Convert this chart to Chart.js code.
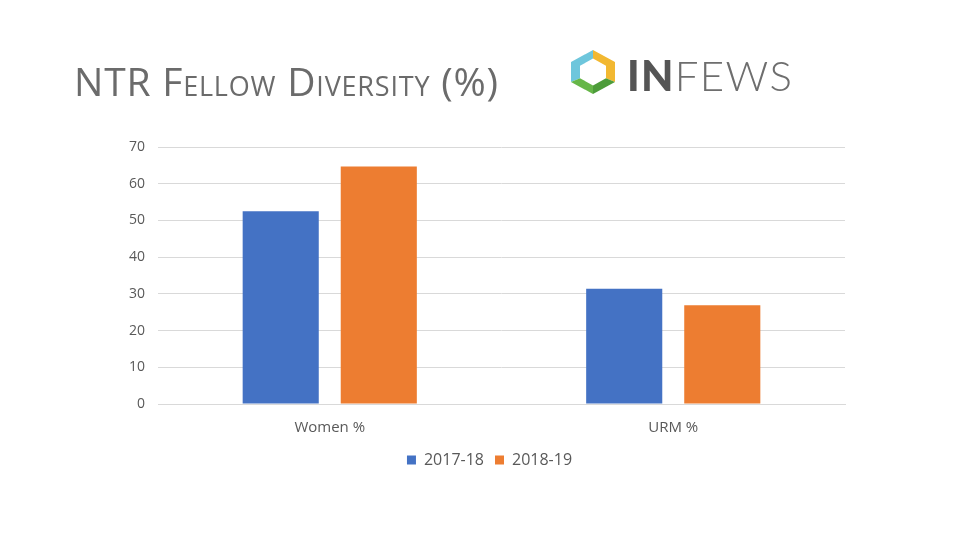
<!DOCTYPE html>
<html>
<head>
<meta charset="utf-8">
<script src="https://cdn.jsdelivr.net/npm/chart.js@4"></script>
<style>
  html, body { margin: 0; padding: 0; background: #ffffff; }
  #wrap { position: relative; width: 960px; height: 540px; overflow: hidden; }
  #chart { position: absolute; left: 0; top: 0; }
  #title { position: absolute; left: 74px; top: 61px; font-family: "Open Sans", sans-serif;
           font-size: 39px; color: #6b6b6b; font-variant: small-caps; white-space: nowrap;
           letter-spacing: 0.8px; line-height: 1; }
  #logo { position: absolute; left: 566px; top: 46px; }
  #logotext { position: absolute; left: 627px; top: 54px; font-family: "Lato", sans-serif;
              font-size: 42px; color: #6e6e6e; white-space: nowrap; line-height: 1; letter-spacing: 1.3px; }
  #logotext b { font-weight: 900; color: #555555; }
  #logotext span { font-weight: 300; }
</style>
</head>
<body>
<div id="wrap">
  <canvas id="chart" width="960" height="540"></canvas>
  <div id="title">NTR Fellow Diversity (%)</div>
  <svg id="logo" width="56" height="56" viewBox="0 0 56 56">
    <polygon points="27,4 5,16 5,36 14,32.2 14,19.8 27,12.6" fill="#6ec6dc"/>
    <polygon points="27,4 49,16 49,36 40,32.2 40,19.8 27,12.6" fill="#f2b831"/>
    <polygon points="5,36 27,48 27,39.4 14,32.2" fill="#66b648"/>
    <polygon points="27,48 49,36 40,32.2 27,39.4" fill="#4d9c3a"/>
  </svg>
  <div id="logotext"><b>IN</b><span>FEWS</span></div>
</div>
<script>
const categories = ["Women %", "URM %"];
const seriesNames = ["2017-18", "2018-19"];
const values2017 = [52.5, 31.4];
const values2018 = [64.7, 26.9];
const yTicksMax = 70;
const yTickStep = 10;

const legendShift = {
  id: "legendShift",
  afterLayout(chart) { if (chart.legend) { chart.legend.left += 34; } }
};

const ctx = document.getElementById("chart").getContext("2d");
new Chart(ctx, {
  type: "bar",
  data: {
    labels: categories,
    datasets: [
      { label: seriesNames[0], data: values2017, backgroundColor: "#4472C4", borderWidth: 0 },
      { label: seriesNames[1], data: values2018, backgroundColor: "#ED7D31", borderWidth: 0 }
    ]
  },
  plugins: [legendShift],
  options: {
    responsive: false,
    animation: false,
    layout: { padding: { left: 100, right: 115, top: 147, bottom: 62 } },
    datasets: { bar: { categoryPercentage: 0.571, barPercentage: 0.776 } },
    plugins: {
      legend: {
        position: "bottom",
        labels: { boxWidth: 9, boxHeight: 9, padding: 11, color: "#595959",
                  font: { family: "Open Sans", size: 16 } }
      },
      tooltip: { enabled: false }
    },
    scales: {
      x: {
        afterFit: (s) => { s.height = s.height - 11; },
        grid: { display: false, drawTicks: false },
        border: { display: true, color: "#d9d9d9" },
        ticks: { color: "#595959", padding: 15, font: { family: "Open Sans", size: 15 } }
      },
      y: {
        min: 0, max: yTicksMax,
        afterFit: (s) => { s.width = 58; },
        grid: { color: "#d9d9d9", drawTicks: false },
        border: { display: false },
        ticks: { stepSize: yTickStep, color: "#595959", padding: 13,
                 font: { family: "Open Sans", size: 14 } }
      }
    }
  }
});
</script>
</body>
</html>
